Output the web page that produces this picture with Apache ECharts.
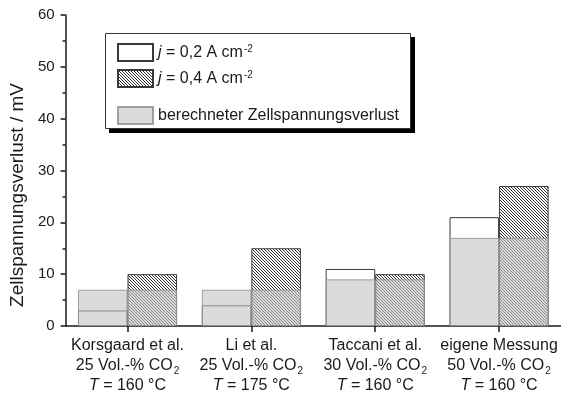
<!DOCTYPE html>
<html>
<head>
<meta charset="utf-8">
<script src="https://cdn.jsdelivr.net/npm/echarts@6/dist/echarts.min.js"></script>
<style>
  html, body { margin: 0; padding: 0; background: #fff; }
  #chart { width: 561px; height: 397px; }
</style>
</head>
<body>
<div id="chart"></div>
<script>
// Studies compared (x categories) and their operating conditions
const categories = ['Korsgaard et al.', 'Li et al.', 'Taccani et al.', 'eigene Messung'];
const co2Share = ['25', '25', '30', '50'];
const temperatures = ['160', '175', '160', '160'];

// Cell voltage loss in mV
const loss02 = [3, 4, 11, 21];     // j = 0,2 A cm-2
const loss04 = [10, 15, 10, 27];   // j = 0,4 A cm-2
const lossCalc = [7, 7, 9, 17];    // calculated loss

// Value axis
const yMin = 0, yMax = 60, yStep = 10;

const FONT = 'Liberation Sans, Arial, Helvetica, sans-serif';
const INK = '#1a1a1a';

// Diagonal hatch pattern for the 0,4 A cm-2 bars
function makeHatch() {
  const c = document.createElement('canvas');
  c.width = 3; c.height = 3;
  const ctx = c.getContext('2d');
  ctx.fillStyle = '#ffffff';
  ctx.fillRect(0, 0, 3, 3);
  ctx.fillStyle = '#333333';
  for (let i = 0; i < 3; i++) ctx.fillRect(i, i, 1, 1);
  return c;
}
const hatch = { image: makeHatch(), repeat: 'repeat' };

const NAME02 = 'j02';
const NAME04 = 'j04';
const NAMECALC = 'berechneter Zellspannungsverlust';

// translucent grey laid over the measured bars
const calcStyle = { color: 'rgba(195,195,195,0.6)', borderColor: 'rgba(150,150,150,0.9)', borderWidth: 1 };

const chart = echarts.init(document.getElementById('chart'), null, { renderer: 'canvas' });

const xAxisBase = {
  type: 'category',
  data: categories,
  boundaryGap: true
};

chart.setOption({
  animation: false,
  backgroundColor: '#ffffff',
  grid: { left: 61, right: -5, top: 15, bottom: 71 },
  xAxis: [
    Object.assign({}, xAxisBase, {
      axisLine: { show: true, lineStyle: { color: INK, width: 1.5 } },
      axisTick: { show: true, alignWithLabel: true, length: 6, lineStyle: { color: INK, width: 1.5 } },
      axisLabel: {
        interval: 0,
        hideOverlap: false,
        margin: 10,
        color: INK,
        fontFamily: FONT,
        fontSize: 16,
        lineHeight: 20,
        formatter: function (v, i) {
          return v + '\n' + co2Share[i] + ' Vol.-% CO{sub|2}\n{it|T} = ' + temperatures[i] + ' °C';
        },
        rich: {
          sub: { fontFamily: FONT, fontSize: 10, color: INK, verticalAlign: 'bottom', lineHeight: 14, padding: [8, 0, 0, 1] },
          it: { fontFamily: FONT, fontSize: 16, fontStyle: 'italic', color: INK }
        }
      },
      splitLine: { show: false }
    }),
    Object.assign({}, xAxisBase, { show: false })
  ],
  yAxis: {
    type: 'value',
    min: yMin,
    max: yMax,
    interval: yStep,
    name: 'Zellspannungsverlust / mV',
    nameLocation: 'middle',
    nameGap: 38,
    nameTextStyle: { fontFamily: FONT, fontSize: 19, color: INK, padding: [0, 49, 0, 0] },
    axisLine: { show: true, lineStyle: { color: INK, width: 1.5 } },
    axisTick: { show: true, length: 5, lineStyle: { color: INK, width: 1.5 } },
    minorTick: { show: true, splitNumber: 2, length: 3, lineStyle: { color: INK, width: 1.5 } },
    axisLabel: { margin: 11, color: INK, fontFamily: FONT, fontSize: 15 },
    splitLine: { show: false }
  },
  legend: [
    {
      data: [NAME02, NAME04],
      orient: 'vertical',
      left: 117,
      top: 43,
      itemWidth: 35,
      itemHeight: 17,
      itemGap: 7,
      icon: 'rect',
      selectedMode: false,
      padding: 0,
      formatter: function (n) {
        return n === NAME02 ? '{it|j} = 0,2 A cm{sup|-2}' : '{it|j} = 0,4 A cm{sup|-2}';
      },
      textStyle: {
        fontFamily: FONT, fontSize: 16, color: INK, lineHeight: 17,
        rich: {
          it: { fontFamily: FONT, fontSize: 16, fontStyle: 'italic', color: INK, lineHeight: 17 },
          sup: { fontFamily: FONT, fontSize: 10, color: INK, verticalAlign: 'top', lineHeight: 10, padding: [0, 0, 6, 1] }
        }
      }
    },
    {
      data: [NAMECALC],
      orient: 'vertical',
      left: 117,
      top: 106,
      itemWidth: 35,
      itemHeight: 17,
      icon: 'rect',
      selectedMode: false,
      padding: 0,
      textStyle: { fontFamily: FONT, fontSize: 16, color: INK, lineHeight: 17 }
    }
  ],
  graphic: [
    // legend frame with a solid drop shadow
    { type: 'rect', z: 0, shape: { x: 109, y: 37, width: 306, height: 96 }, style: { fill: '#000000' }, silent: true },
    { type: 'rect', z: 1, shape: { x: 105.5, y: 33.5, width: 305, height: 95 }, style: { fill: '#ffffff', stroke: '#333333', lineWidth: 1 }, silent: true }
  ],
  series: [
    {
      name: NAME02,
      type: 'bar',
      xAxisIndex: 0,
      data: loss02,
      barGap: '0%',
      barCategoryGap: '20%',
      z: 2,
      itemStyle: { color: '#ffffff', borderColor: '#3a3a3a', borderWidth: 1 }
    },
    {
      name: NAME04,
      type: 'bar',
      xAxisIndex: 0,
      data: loss04,
      barGap: '0%',
      barCategoryGap: '20%',
      z: 2,
      itemStyle: { color: hatch, borderColor: '#3a3a3a', borderWidth: 1 }
    },
    {
      id: 'calc-02',
      name: NAMECALC,
      type: 'bar',
      xAxisIndex: 1,
      data: lossCalc,
      barGap: '0%',
      barCategoryGap: '20%',
      z: 3,
      itemStyle: calcStyle
    },
    {
      id: 'calc-04',
      name: NAMECALC + ' ',
      type: 'bar',
      xAxisIndex: 1,
      data: lossCalc,
      barGap: '0%',
      barCategoryGap: '20%',
      z: 3,
      itemStyle: calcStyle
    }
  ]
});
</script>
</body>
</html>
